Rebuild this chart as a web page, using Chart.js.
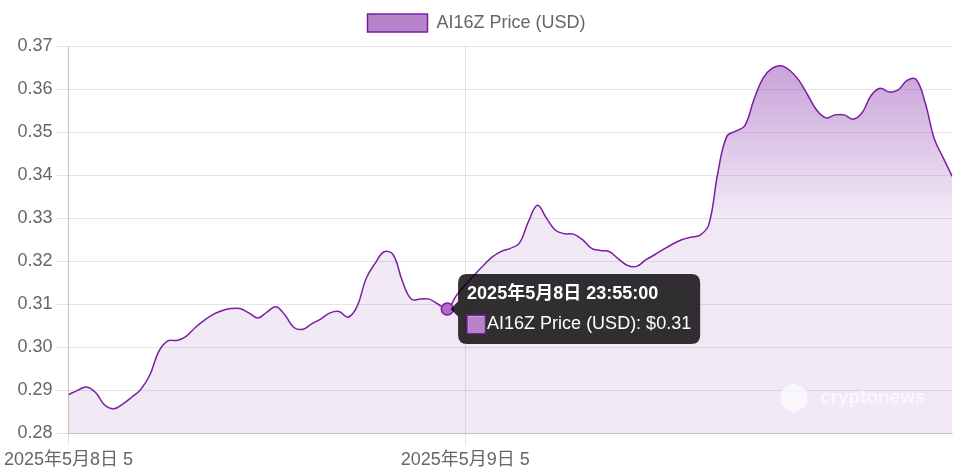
<!DOCTYPE html>
<html><head><meta charset="utf-8">
<script src="https://cdn.jsdelivr.net/npm/chart.js@4/dist/chart.umd.min.js"></script>
<style>html,body{margin:0;padding:0;background:#fff}#wrap{width:953px;height:475px;position:relative}</style>
</head><body><div id="wrap"><canvas id="c"></canvas></div>
<script>
const seriesName = 'AI16Z Price (USD)';
const priceValues = [
  0.2890, 0.2900, 0.2908, 0.2895, 0.2866, 0.2857, 0.2868, 0.2884, 0.2902, 0.2935,
  0.2990, 0.3015, 0.3016, 0.3025, 0.3045, 0.3062, 0.3076, 0.3085, 0.3090, 0.3090,
  0.3080, 0.3068, 0.3082, 0.3094, 0.3075, 0.3046, 0.3042, 0.3055, 0.3066, 0.3080,
  0.3083, 0.3070, 0.3095, 0.3160, 0.3195, 0.3222, 0.3215, 0.3155, 0.3112, 0.3112,
  0.3112, 0.3100, 0.3089, 0.3120, 0.3145, 0.3168, 0.3190, 0.3210, 0.3223, 0.3230,
  0.3242, 0.3292, 0.3330, 0.3300, 0.3272, 0.3264, 0.3263, 0.3250, 0.3230, 0.3225,
  0.3222, 0.3205, 0.3190, 0.3188, 0.3203, 0.3215, 0.3228, 0.3240, 0.3250, 0.3256,
  0.3260, 0.3285, 0.3405, 0.3490, 0.3502, 0.3515, 0.3575, 0.3625, 0.3648, 0.3654,
  0.3643, 0.3620, 0.3585, 0.3550, 0.3533, 0.3540, 0.3540, 0.3530, 0.3545, 0.3585,
  0.3602, 0.3593, 0.3598, 0.3620, 0.3622, 0.3568, 0.3485, 0.3440, 0.3397
];
const xTickIndex = [0, 44];
const xTickLabels = ['2025年5月8日 5', '2025年5月9日 5'];
const hoverIndex = 42;
const hoverTime = '2025年5月8日 23:55:00';
const yMin = 0.28, yMax = 0.37, yStep = 0.01;

const PURPLE = '#7b1fa2';
const PURPLE_MID = 'rgba(123,31,162,0.55)';
const FONT = "'Liberation Sans', Arial, 'Noto Sans CJK SC', sans-serif";

const ctx = document.getElementById('c').getContext('2d');
const grad = ctx.createLinearGradient(0, 0, 0, 215);
grad.addColorStop(0, 'rgba(123,31,162,0.55)');
grad.addColorStop(1, 'rgba(123,31,162,0.10)');

const legendSpacing = {
  id: 'legendSpacing',
  beforeInit(chart) {
    const orig = chart.legend.fit;
    chart.legend.fit = function () {
      orig.call(this);
      this.height += 4;
    };
  }
};

const watermark = {
  id: 'watermark',
  afterDatasetsDraw(chart) {
    const c = chart.ctx;
    c.save();
    c.fillStyle = 'rgba(255,255,255,0.65)';
    c.beginPath();
    const cx = 794, cy = 398, r = 15;
    for (let k = 0; k < 6; k++) {
      const a = Math.PI / 3 * k + Math.PI / 6;
      const px = cx + r * Math.cos(a), py = cy + r * Math.sin(a);
      if (k === 0) c.moveTo(px, py); else c.lineTo(px, py);
    }
    c.closePath();
    c.fill();
    c.font = "bold 19px " + FONT;
    c.textBaseline = 'middle';
    c.fillText('cryptonews', 820, 398);
    c.restore();
  }
};

const chart = new Chart(ctx, {
  type: 'line',
  data: {
    datasets: [{
      label: seriesName,
      data: priceValues.map((v, i) => ({ x: i, y: v })),
      borderColor: PURPLE,
      backgroundColor: grad,
      borderWidth: 1.5,
      fill: true,
      tension: 0.4,
      pointRadius: 0,
      pointHoverRadius: 6,
      pointHoverBackgroundColor: '#b06ac8',
      pointHoverBorderColor: PURPLE,
      pointHoverBorderWidth: 1.5
    }]
  },
  options: {
    responsive: true,
    maintainAspectRatio: false,
    animation: false,
    events: [],
    layout: { padding: 0 },
    plugins: {
      legend: {
        display: true,
        position: 'top',
        labels: {
          font: { family: FONT, size: 18 },
          color: '#666',
          boxWidth: 60,
          boxHeight: 18,
          padding: 14,
          generateLabels(chart) {
            return [{
              text: seriesName,
              fillStyle: PURPLE_MID,
              strokeStyle: PURPLE,
              fontColor: '#666',
              lineWidth: 1.5,
              datasetIndex: 0,
              hidden: false
            }];
          }
        }
      },
      tooltip: {
        enabled: true,
        backgroundColor: 'rgba(0,0,0,0.8)',
        titleFont: { family: FONT, size: 18, weight: 'bold' },
        bodyFont: { family: FONT, size: 18 },
        padding: 9,
        caretSize: 7.5,
        caretPadding: 3,
        cornerRadius: 9,
        titleMarginBottom: 9,
        boxWidth: 18,
        boxHeight: 18,
        callbacks: {
          title: (items) => items.length && items[0].dataIndex === hoverIndex ? hoverTime : '',
          label: (c) => `${c.dataset.label}: $${c.parsed.y.toFixed(2)}`,
          labelColor: () => ({ borderColor: PURPLE, backgroundColor: PURPLE_MID, borderWidth: 1.5 })
        }
      }
    },
    scales: {
      x: {
        type: 'linear',
        min: 0,
        max: priceValues.length - 1,
        afterBuildTicks(axis) {
          axis.ticks = xTickIndex.map(v => ({ value: v }));
        },
        ticks: {
          autoSkip: false,
          maxRotation: 0,
          font: { family: FONT, size: 18 },
          color: '#666',
          padding: 4,
          callback: (value) => {
            const k = xTickIndex.indexOf(value);
            return k >= 0 ? xTickLabels[k] : '';
          }
        },
        grid: { color: 'rgba(0,0,0,0.1)', tickLength: 12 },
        border: { color: 'rgba(0,0,0,0.15)' }
      },
      y: {
        min: yMin,
        max: yMax,
        ticks: {
          stepSize: yStep,
          font: { family: FONT, size: 18 },
          color: '#666',
          padding: 4,
          callback: (v) => Number(v).toFixed(2)
        },
        grid: { color: 'rgba(0,0,0,0.1)', tickLength: 12 },
        border: { color: 'rgba(0,0,0,0.15)' }
      }
    }
  },
  plugins: [legendSpacing, watermark]
});

chart.setActiveElements([{ datasetIndex: 0, index: hoverIndex }]);
chart.tooltip.setActiveElements([{ datasetIndex: 0, index: hoverIndex }], { x: 0, y: 0 });
chart.update();
</script>
</body></html>
